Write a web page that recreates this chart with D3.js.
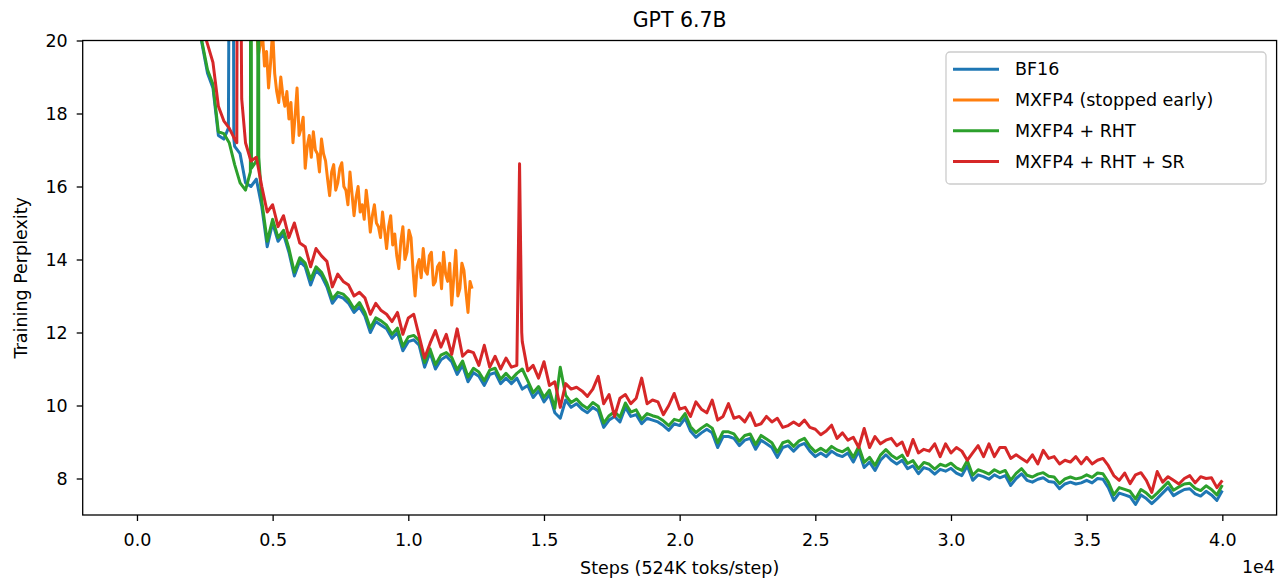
<!DOCTYPE html>
<html>
<head>
<meta charset="utf-8">
<script src="https://cdn.jsdelivr.net/npm/d3@7"></script>
<style>
  body { margin: 0; background: #fff; }
  svg { display: block; font-family: "DejaVu Sans", sans-serif; }
  .axis text { font-size: 17.5px; fill: #000; font-family: "DejaVu Sans", sans-serif; }
  .axis line { stroke: #000; stroke-width: 1.3px; }
  .axis path { stroke: none; }
</style>
</head>
<body>
<svg id="chart" width="1287" height="581"></svg>
<script>
// logged every 200 steps (orange run every 75)
const steps = d3.range(1800, 40001, 200);
const orangeSteps = d3.range(3950, 12351, 75);

const bf16 = [
    23.0, 21.8, 20.8, 19.9, 19.1, 18.7, 17.4, 17.3, 23.0, 17.1, 16.9, 16.1, 16.0, 16.2, 15.45, 14.35, 15.0, 14.5, 14.7, 14.2, 13.55,
    13.95, 13.8, 13.3, 13.7, 13.55, 13.25, 12.8, 13.0, 12.94, 12.8, 12.55, 12.7, 12.45, 12.0, 12.3, 12.2, 12.1, 11.84, 12.0, 11.5, 11.75,
    11.8, 11.65, 11.05, 11.45, 11.0, 11.25, 11.35, 11.2, 10.85, 11.1, 10.65, 10.9, 10.8, 10.55, 10.85, 10.9, 10.6, 10.75, 10.6, 10.75,
    10.45, 10.55, 10.22, 10.4, 10.1, 10.3, 9.8, 9.65, 10.15, 9.95, 10.05, 9.9, 9.8, 9.95, 9.85, 9.4, 9.6, 9.7, 9.55,
    9.95, 9.7, 9.75, 9.5, 9.65, 9.6, 9.55, 9.45, 9.32, 9.5, 9.45, 9.65, 9.3, 9.13, 9.25,
    9.35, 9.25, 8.85, 9.15, 9.15, 9.1, 8.9, 9.05, 9.1, 8.8, 9.05, 8.95, 8.85, 8.58, 8.85, 8.9, 8.75, 8.9, 8.96, 8.75, 8.6, 8.7, 8.6, 8.75, 8.65, 8.6,
    8.7, 8.45, 8.75, 8.3, 8.45, 8.22, 8.5, 8.65, 8.5, 8.4, 8.5, 8.27, 8.35, 8.13, 8.3, 8.25, 8.12, 8.25, 8.2, 8.28, 8.15,
    8.08, 8.35, 7.95, 8.1, 8.05, 7.98, 8.1, 8.02, 8.08, 7.81, 8.0, 8.13, 7.95, 7.9, 7.98, 8.02, 7.92, 7.9, 7.72, 7.85, 7.9,
    7.85, 7.88, 7.95, 7.88, 8.0, 7.98, 7.75, 7.4, 7.6, 7.55, 7.5, 7.29, 7.55, 7.45, 7.31, 7.45, 7.6, 7.75, 7.53, 7.62,
    7.7, 7.72, 7.58, 7.52, 7.65, 7.55, 7.4, 7.67
];
const bf16Extra = [[3370, 17.6], [3550, 23.0], [3570, 17.3]];

const mxfp4 = [
    22.5, 21.8, 21.5, 21.3, 20.8, 20.9, 20.4, 19.6, 19.9, 20.2,
    19.3, 19.7, 18.7, 19.4, 20.3, 19.1, 18.6, 18.3, 19.0, 18.5,
    18.2, 18.6, 17.85, 18.3, 17.2, 17.9, 18.7, 17.4, 17.6, 17.9,
    16.5, 17.1, 17.4, 16.8, 17.5, 17.0, 16.9, 16.4, 17.3, 16.9,
    16.7, 16.2, 15.75, 16.4, 16.6, 15.9, 16.1, 16.5, 16.65, 16.0,
    15.9, 15.5, 16.4, 15.8, 15.2, 15.7, 16.0, 15.3, 15.5, 15.1,
    15.9, 15.4, 14.75, 15.2, 15.5, 15.0, 14.9, 14.6, 15.3, 14.8,
    14.3, 14.9, 15.2, 14.4, 14.7, 14.1, 13.75, 14.5, 14.9, 14.0,
    14.2, 14.8, 14.6, 13.7, 13.0, 13.8, 14.0, 13.5, 14.3, 13.7,
    13.6, 14.1, 14.2, 13.3, 13.4, 13.8, 13.9, 13.2, 14.2, 13.6,
    13.4, 13.9, 12.75, 13.5, 14.25, 13.0, 13.2, 13.9, 13.7, 13.1,
    12.55, 13.4, 13.2
];

const mxfp4Rht = [
    23.2, 22.0, 20.9, 19.95, 19.2, 18.8, 17.5, 17.45, 17.2, 16.6, 16.1, 15.9, 30.0, 16.7, 15.6, 14.5, 15.1, 14.6, 14.8, 14.3, 13.65,
    14.05, 13.9, 13.45, 13.8, 13.65, 13.35, 12.92, 13.1, 13.05, 12.9, 12.65, 12.82, 12.55, 12.12, 12.4, 12.32, 12.2, 11.95, 12.12, 11.62, 11.88,
    11.92, 11.78, 11.18, 11.55, 11.12, 11.38, 11.45, 11.32, 10.98, 11.22, 10.78, 11.02, 10.92, 10.68, 10.97, 11.02, 10.72, 10.88, 10.72, 10.88,
    11.0, 10.68, 10.35, 10.52, 10.22, 10.42, 9.92, 11.05, 10.28, 10.08, 10.18, 10.02, 9.92, 10.08, 9.98, 9.52, 9.72, 9.83, 9.68,
    10.07, 9.82, 9.88, 9.62, 9.78, 9.72, 9.68, 9.58, 9.45, 9.62, 9.58, 9.78, 9.42, 9.26, 9.38,
    9.48, 9.38, 8.98, 9.28, 9.28, 9.22, 9.02, 9.18, 9.22, 8.93, 9.18, 9.08, 8.98, 8.72, 8.98, 9.03, 8.88, 9.03, 9.1, 8.88, 8.73, 8.83, 8.73, 8.88, 8.78, 8.73,
    8.83, 8.58, 8.88, 8.44, 8.58, 8.36, 8.64, 8.79, 8.64, 8.54, 8.64, 8.41, 8.49, 8.27, 8.44, 8.39, 8.26, 8.39, 8.34, 8.42, 8.29,
    8.22, 8.49, 8.09, 8.24, 8.19, 8.12, 8.24, 8.16, 8.22, 7.95, 8.14, 8.27, 8.09, 8.04, 8.12, 8.16, 8.06, 8.04, 7.86, 7.99, 8.04,
    7.99, 8.02, 8.1, 8.03, 8.15, 8.13, 7.9, 7.55, 7.75, 7.7, 7.65, 7.44, 7.7, 7.6, 7.46, 7.6, 7.75, 7.9, 7.68, 7.77,
    7.85, 7.87, 7.73, 7.67, 7.8, 7.7, 7.55, 7.82
];
const mxfp4RhtExtra = [[4180, 16.4], [4220, 16.5], [4450, 16.8], [4470, 30.0], [4490, 16.8]];

const mxfp4RhtSr = [
    23.5, 22.2, 21.1, 20.4, 19.9, 19.4, 18.2, 17.8, 17.6, 17.3, 25.0, 17.2, 16.7, 16.8, 16.0, 15.3, 15.5, 14.9, 15.2, 14.6, 15.0,
    14.45, 14.35, 13.8, 14.3, 14.1, 13.95, 13.25, 13.6, 13.4, 13.3, 13.0, 13.1, 12.95, 12.5, 12.8, 12.6, 12.5, 12.3, 12.55, 11.95, 12.4,
    12.5, 11.9, 11.3, 11.7, 12.05, 11.6, 11.95, 11.4, 12.1, 11.35, 11.5, 11.45, 11.1, 11.65, 11.05, 11.35, 11.0, 11.3, 11.05, 11.1,
    11.75, 10.95, 11.1, 10.75, 11.2, 10.55, 10.65, 9.95, 10.6, 10.45, 10.5, 10.4, 10.25, 10.45, 10.8, 10.05, 10.3, 9.7, 10.2,
    10.3, 10.05, 10.2, 10.75, 10.05, 10.15, 10.1, 9.75, 10.0, 10.33, 9.9, 9.95, 9.7, 10.1, 9.9,
    9.8, 10.15, 9.6, 9.7, 10.05, 9.65, 9.7, 9.55, 9.8, 9.45, 9.5, 9.7, 9.55, 9.65, 9.4, 9.45, 9.55, 9.45, 9.6, 9.4, 9.35, 9.2, 9.3, 9.46, 9.1, 9.25,
    9.05, 9.13, 8.85, 9.37, 8.85, 9.15, 8.95, 9.05, 9.1, 8.9, 9.0, 8.63, 9.07, 8.7, 8.8, 8.75, 8.95, 8.6, 8.95, 8.7, 8.85,
    8.75, 8.5, 8.7, 8.9, 8.6, 8.95, 8.6, 8.85, 8.85, 8.55, 8.65, 8.55, 8.45, 8.65, 8.4, 8.77, 8.55, 8.6, 8.4, 8.5, 8.45,
    8.6, 8.4, 8.58, 8.4, 8.5, 8.55, 8.35, 8.08, 7.95, 8.15, 7.86, 8.1, 8.16, 7.95, 7.62, 8.19, 7.9, 8.05, 7.95, 7.85,
    8.0, 8.08, 7.88, 8.05, 8.0, 8.02, 7.75, 7.95
];
const mxfp4RhtSrExtra = [[3680, 17.2], [3700, 25.0], [3860, 18.4], [14100, 16.62], [14180, 12.0]];

const labels = ["BF16", "MXFP4 (stopped early)", "MXFP4 + RHT", "MXFP4 + RHT + SR"];
const colors = ["#1f77b4", "#ff7f0e", "#2ca02c", "#d62728"];
const xTicks = [0, 5000, 10000, 15000, 20000, 25000, 30000, 35000, 40000];
const yTicks = [8, 10, 12, 14, 16, 18, 20];

function toPoints(s, vals, extra) {
    const pts = vals.map((v, i) => [s[i], v]);
    return pts.concat(extra || []).sort((a, b) => a[0] - b[0]);
}

const runs = [
    toPoints(steps, bf16, bf16Extra),
    toPoints(orangeSteps, mxfp4),
    toPoints(steps, mxfp4Rht, mxfp4RhtExtra),
    toPoints(steps, mxfp4RhtSr, mxfp4RhtSrExtra)
];

const margin = {top: 40.5, right: 10.4, bottom: 66, left: 82.7},
    width = 1287 - margin.left - margin.right,
    height = 581 - margin.top - margin.bottom;

const svg = d3.select("#chart");
const chart = svg.append("g")
    .attr("transform", `translate(${margin.left}, ${margin.top})`);

const xScale = d3.scaleLinear().domain([-2000, 42000]).range([0, width]);
const yScale = d3.scaleLinear().domain([7, 20]).range([height, 0]);

chart.append("clipPath")
    .attr("id", "clip")
    .append("rect")
    .attr("width", width)
    .attr("height", height);

const line = d3.line()
    .x(d => xScale(d[0]))
    .y(d => yScale(d[1]));

runs.forEach((pts, i) => {
    chart.append("path")
        .datum(pts)
        .attr("clip-path", "url(#clip)")
        .attr("fill", "none")
        .attr("stroke", colors[i])
        .attr("stroke-width", 3)
        .attr("stroke-linejoin", "round")
        .attr("d", line);
});

chart.append("g")
    .attr("class", "x axis")
    .attr("transform", `translate(0, ${height})`)
    .call(d3.axisBottom(xScale)
        .tickValues(xTicks)
        .tickFormat(d => (d / 1e4).toFixed(1))
        .tickSize(6)
        .tickSizeOuter(0)
        .tickPadding(12.5));

chart.append("g")
    .attr("class", "y axis")
    .call(d3.axisLeft(yScale)
        .tickValues(yTicks)
        .tickFormat(d3.format("d"))
        .tickSize(6)
        .tickSizeOuter(0)
        .tickPadding(9));

// frame
chart.append("rect")
    .attr("width", width)
    .attr("height", height)
    .attr("fill", "none")
    .attr("stroke", "#000")
    .attr("stroke-width", 1.3);

svg.append("text")
    .attr("x", margin.left + width / 2)
    .attr("y", 26.5)
    .attr("text-anchor", "middle")
    .attr("font-size", "20.5px")
    .text("GPT 6.7B");

svg.append("text")
    .attr("x", margin.left + width / 2)
    .attr("y", 574)
    .attr("text-anchor", "middle")
    .attr("font-size", "17.5px")
    .text("Steps (524K toks/step)");

svg.append("text")
    .attr("x", 1275)
    .attr("y", 572.5)
    .attr("text-anchor", "end")
    .attr("font-size", "17.5px")
    .text("1e4");

svg.append("text")
    .attr("transform", `translate(27, ${margin.top + height / 2}) rotate(-90)`)
    .attr("text-anchor", "middle")
    .attr("font-size", "17.5px")
    .text("Training Perplexity");

// legend
const legend = svg.append("g")
    .attr("transform", "translate(946, 52)");

legend.append("rect")
    .attr("width", 320)
    .attr("height", 132)
    .attr("rx", 4)
    .attr("fill", "#fff")
    .attr("fill-opacity", 0.8)
    .attr("stroke", "#cccccc")
    .attr("stroke-width", 1.3);

const item = legend.selectAll(".legend")
    .data(labels)
    .enter().append("g")
    .attr("class", "legend")
    .attr("transform", (d, i) => `translate(0, ${17.3 + i * 30.7})`);

item.append("line")
    .attr("x1", 7)
    .attr("x2", 53)
    .attr("stroke", (d, i) => colors[i])
    .attr("stroke-width", 3);

item.append("text")
    .attr("x", 69)
    .attr("dy", "0.35em")
    .attr("font-size", "17.5px")
    .text(d => d);
</script>
</body>
</html>
